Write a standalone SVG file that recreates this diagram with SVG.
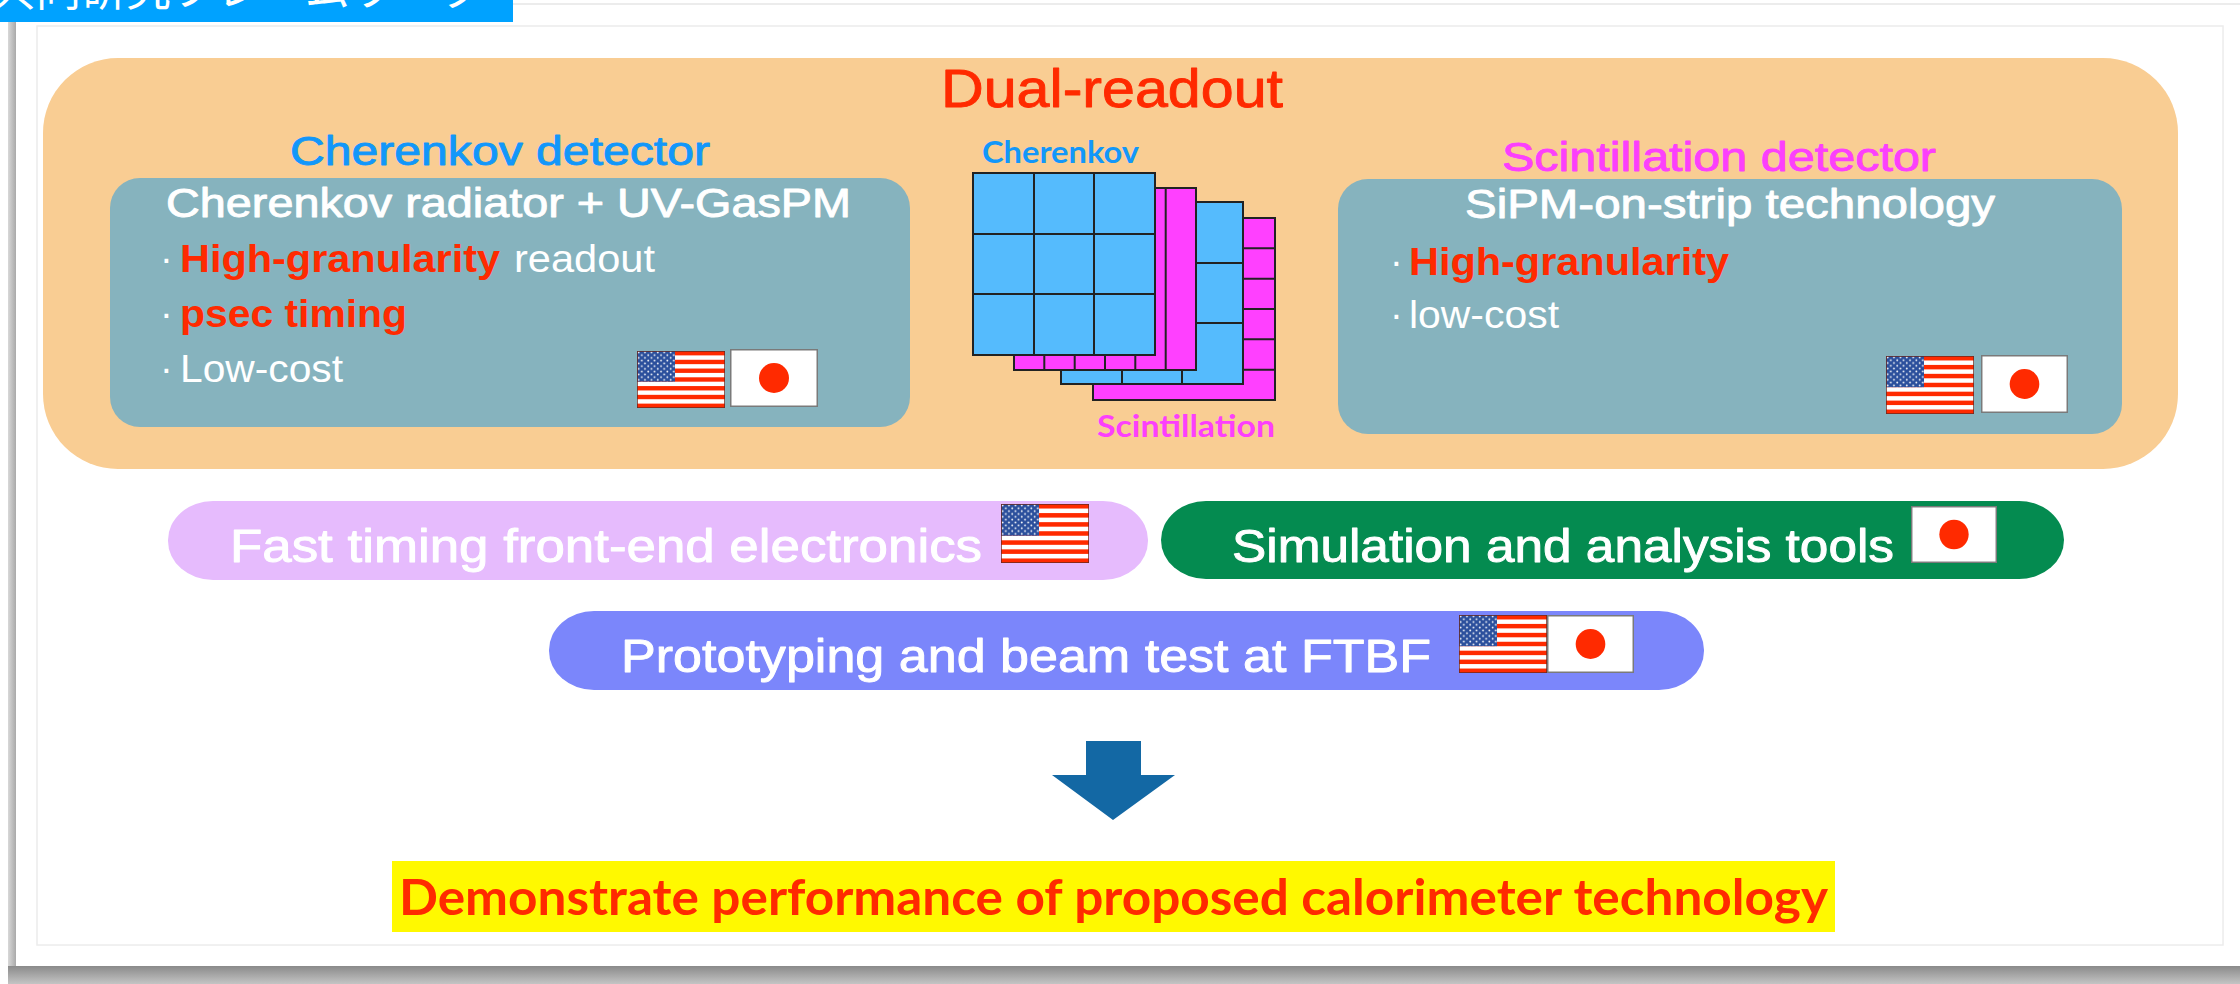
<svg xmlns="http://www.w3.org/2000/svg" xmlns:xlink="http://www.w3.org/1999/xlink" width="2240" height="984" viewBox="0 0 2240 984">
  <style>
    .sans { font-family: "Liberation Sans", Arial, sans-serif; }
    .lato { font-family: Lato, "Liberation Sans", sans-serif; font-weight: 700; }
    .white { fill: #ffffff; }
    .red { fill: #ff2a00; }
    .blue { fill: #1297fa; }
    .magenta { fill: #fc3ffc; }
    .teal { fill: #86b3be; }
    .med { stroke-width: 0.9; stroke-linejoin: round; }
    .med.white { stroke: #ffffff; }
    .med.red { stroke: #ff2a00; }
    .med.blue { stroke: #1297fa; }
    .med.magenta { stroke: #fc3ffc; }
    .cell { stroke: #222222; stroke-width: 2; }
    .jp-field { fill: #ffffff; stroke: #7a7a7a; stroke-width: 1.5; }
  </style>
  <defs>
    <linearGradient id="sideShade" x1="0" y1="0" x2="1" y2="0">
      <stop offset="0" stop-color="#d8d8d8"/>
      <stop offset="1" stop-color="#a9a9a9"/>
    </linearGradient>
    <linearGradient id="bottomShade" x1="0" y1="0" x2="0" y2="1">
      <stop offset="0" stop-color="#8a8a8a"/>
      <stop offset="1" stop-color="#c4c4c4"/>
    </linearGradient>
    <pattern id="stars" x="0" y="0" width="6.4" height="5.6" patternUnits="userSpaceOnUse">
      <rect width="6.4" height="5.6" fill="#2b4f9c"/>
      <circle cx="1.6" cy="1.4" r="0.9" fill="#ffffff"/>
      <circle cx="4.8" cy="4.2" r="0.9" fill="#ffffff"/>
    </pattern>
    <!-- US flag, 88 x 58 units -->
    <symbol id="flagUS" viewBox="0 0 88 58" preserveAspectRatio="none">
      <rect width="88" height="58" fill="#ffffff"/>
      <g fill="#ff2a00">
        <rect y="0" width="88" height="4.46"/>
        <rect y="8.92" width="88" height="4.46"/>
        <rect y="17.84" width="88" height="4.46"/>
        <rect y="26.76" width="88" height="4.46"/>
        <rect y="35.68" width="88" height="4.46"/>
        <rect y="44.6" width="88" height="4.46"/>
        <rect y="53.54" width="88" height="4.46"/>
      </g>
      <rect width="38" height="31.2" fill="url(#stars)"/>
      <rect width="88" height="58" fill="none" stroke="#6b2a20" stroke-width="1.5"/>
    </symbol>
    <!-- Japanese flag, 88 x 58 units -->
    <symbol id="flagJP" viewBox="0 0 88 58" preserveAspectRatio="none">
      <rect x="0.75" y="0.75" width="86.5" height="56.5" class="jp-field"/>
      <circle cx="44" cy="29" r="15" fill="#ff2a00"/>
    </symbol>
    <!-- 3x3 pad layer -->
    <g id="padLayer">
      <rect width="182" height="182" fill="#55bbfd" class="cell"/>
      <path d="M61 0V182M121 0V182M0 61H182M0 121H182" fill="none" class="cell"/>
    </g>
    <!-- vertical strip layer -->
    <g id="stripLayerV">
      <rect width="182" height="182" fill="#ff40ff" class="cell"/>
      <path d="M30.3 0V182M60.7 0V182M91 0V182M121.3 0V182M151.7 0V182" fill="none" class="cell"/>
    </g>
    <!-- horizontal strip layer -->
    <g id="stripLayerH">
      <rect width="182" height="182" fill="#ff40ff" class="cell"/>
      <path d="M0 30.3H182M0 60.7H182M0 91H182M0 121.3H182M0 151.7H182" fill="none" class="cell"/>
    </g>
  </defs>

  <!-- page background and frame -->
  <rect width="2240" height="984" fill="#ffffff"/>
  <line x1="513" y1="4" x2="2240" y2="4" stroke="#ececec" stroke-width="2"/>
  <rect x="8" y="22" width="8" height="962" fill="url(#sideShade)"/>
  <rect x="8" y="966" width="2232" height="18" fill="url(#bottomShade)"/>
  <rect x="37" y="26" width="2186" height="919" fill="none" stroke="#ececec" stroke-width="1.5"/>

  <!-- title bar (its heading runs off the top edge) -->
  <g id="title-bar">
    <rect x="0" y="0" width="513" height="22" fill="#00a2ff"/>
    <text x="-9" y="6" font-size="45" class="white" font-family="'Noto Sans CJK JP', sans-serif">共同研究フレームワーク</text>
  </g>

  <!-- dual-readout container -->
  <g id="dual-readout">
    <rect x="43" y="58" width="2135" height="411" rx="75" fill="#f9cd93"/>
    <text x="941" y="107" font-size="54" class="sans red med" stroke-width="1.3" textLength="342" lengthAdjust="spacingAndGlyphs">Dual-readout</text>
  </g>

  <!-- Cherenkov detector -->
  <g id="cherenkov-detector">
    <text x="290" y="165" font-size="40" class="sans blue med" textLength="420" lengthAdjust="spacingAndGlyphs">Cherenkov detector</text>
    <rect x="110" y="178" width="800" height="249" rx="30" class="teal"/>
    <text x="166" y="217" font-size="41" class="sans white med" textLength="685" lengthAdjust="spacingAndGlyphs">Cherenkov radiator + UV-GasPM</text>
    <text y="272" font-size="38" class="sans"><tspan x="160" class="white">·</tspan><tspan x="180" class="red" font-weight="700" textLength="320" lengthAdjust="spacingAndGlyphs">High-granularity</tspan><tspan x="514" class="white" textLength="141" lengthAdjust="spacingAndGlyphs">readout</tspan></text>
    <text y="327" font-size="38" class="sans"><tspan x="160" class="white">·</tspan><tspan x="180" class="red" font-weight="700" textLength="227" lengthAdjust="spacingAndGlyphs">psec timing</tspan></text>
    <text y="382" font-size="38" class="sans"><tspan x="160" class="white">·</tspan><tspan x="180" class="white" textLength="163" lengthAdjust="spacingAndGlyphs">Low-cost</tspan></text>
    <use href="#flagUS" x="637" y="351" width="88" height="57"/>
    <use href="#flagJP" x="730" y="349" width="88" height="58"/>
  </g>

  <!-- layered calorimeter sketch -->
  <g id="layer-sketch">
    <use href="#stripLayerH" x="1093" y="218"/>
    <use href="#padLayer" x="1061" y="202"/>
    <use href="#stripLayerV" x="1014" y="188"/>
    <use href="#padLayer" x="973" y="173"/>
    <text x="982" y="163" font-size="31" class="lato blue" textLength="157" lengthAdjust="spacingAndGlyphs">Cherenkov</text>
    <text x="1097" y="437" font-size="31" class="lato magenta" textLength="178" lengthAdjust="spacingAndGlyphs">Scintillation</text>
  </g>

  <!-- Scintillation detector -->
  <g id="scintillation-detector">
    <text x="1502" y="171" font-size="40" class="sans magenta med" textLength="434" lengthAdjust="spacingAndGlyphs">Scintillation detector</text>
    <rect x="1338" y="179" width="784" height="255" rx="30" class="teal"/>
    <text x="1465" y="218" font-size="41" class="sans white med" textLength="530" lengthAdjust="spacingAndGlyphs">SiPM-on-strip technology</text>
    <text y="275" font-size="38" class="sans"><tspan x="1390" class="white">·</tspan><tspan x="1409" class="red" font-weight="700" textLength="320" lengthAdjust="spacingAndGlyphs">High-granularity</tspan></text>
    <text y="328" font-size="38" class="sans"><tspan x="1390" class="white">·</tspan><tspan x="1409" class="white" textLength="150" lengthAdjust="spacingAndGlyphs">low-cost</tspan></text>
    <use href="#flagUS" x="1886" y="356" width="88" height="58"/>
    <use href="#flagJP" x="1981" y="355" width="87" height="58"/>
  </g>

  <!-- work packages -->
  <g id="front-end-electronics">
    <rect x="168" y="501" width="980" height="79" rx="45" ry="39" fill="#e6bbfd"/>
    <text x="230" y="562" font-size="46" class="sans white med" textLength="752" lengthAdjust="spacingAndGlyphs">Fast timing front-end electronics</text>
    <use href="#flagUS" x="1001" y="504" width="88" height="59"/>
  </g>
  <g id="simulation-tools">
    <rect x="1161" y="501" width="903" height="78" rx="45" ry="39" fill="#048b50"/>
    <text x="1232" y="562" font-size="46" class="sans white med" textLength="662" lengthAdjust="spacingAndGlyphs">Simulation and analysis tools</text>
    <use href="#flagJP" x="1911" y="506" width="86" height="57"/>
  </g>
  <g id="beam-test">
    <rect x="549" y="611" width="1155" height="79" rx="45" ry="39" fill="#7b86fb"/>
    <text x="621" y="672" font-size="46" class="sans white med" textLength="810" lengthAdjust="spacingAndGlyphs">Prototyping and beam test at FTBF</text>
    <use href="#flagUS" x="1459" y="615" width="88" height="58"/>
    <use href="#flagJP" x="1547" y="615" width="87" height="58"/>
  </g>

  <!-- connectors -->
  <g id="connectors">
    <polygon points="1086,741 1141,741 1141,775 1175,775 1113,820 1052,775 1086,775" fill="#1368a4"/>
  </g>

  <!-- goal -->
  <g id="goal">
    <rect x="392" y="861" width="1443" height="71" fill="#fff900"/>
    <text x="399" y="915" font-size="50" class="lato red" textLength="1429" lengthAdjust="spacingAndGlyphs">Demonstrate performance of proposed calorimeter technology</text>
  </g>
</svg>
